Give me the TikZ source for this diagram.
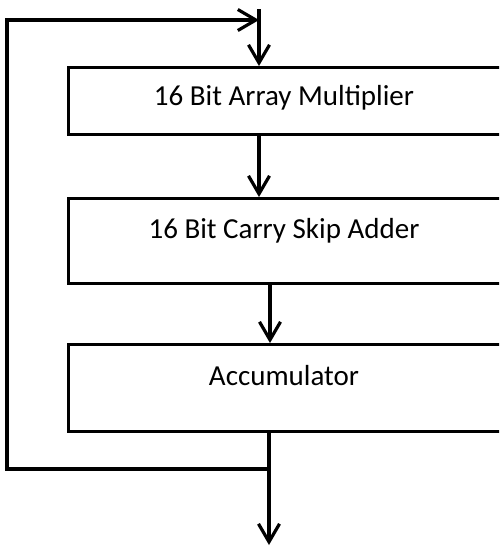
\documentclass[tikz,border=0pt]{standalone}
\usepackage{fontspec}
\setmainfont{Carlito}
\usetikzlibrary{arrows.meta}
\begin{document}
\begin{tikzpicture}[x=1pt,y=-1pt,line width=3.2pt,
  blk/.style={draw,rectangle,minimum width=463pt,anchor=north west,inner sep=0pt},
  lbl/.style={font=\fontsize{29}{34}\selectfont,inner sep=0pt,anchor=base},
  arr/.style={-{Straight Barb[length=18pt,width=21pt,line width=3.2pt]}}]
\useasboundingbox (0,0) rectangle (499,547);
\clip (0,0) rectangle (499,547);
\node[blk,minimum height=67pt] (box1) at (67,66) {};
\node[blk,minimum height=85pt] (box2) at (67,197) {};
\node[blk,minimum height=87pt] (box3) at (67,343) {};
\node[lbl] (t1) at (284,105) {16 Bit Array Multiplier};
\node[lbl] (t2) at (284,238) {16 Bit Carry Skip Adder};
\node[lbl] (t3) at (284,385) {Accumulator};
\coordinate (top) at (259,9);
\coordinate (mid) at (270,0);
\coordinate (out) at (269,545);
\coordinate (fb) at (269,469);
\coordinate (fbl) at (7,469);
\coordinate (fbt) at (7,20);
\draw[arr] (top) -- (box1.north -| top);
\draw[arr] (box1.south -| top) -- (box2.north -| top);
\draw[arr] (box2.south -| mid) -- (box3.north -| mid);
\draw[arr] (box3.south -| out) -- (out);
\draw[arr] (fb) -- (fbl) -- (fbt) -- (fbt -| top);
\end{tikzpicture}
\end{document}
